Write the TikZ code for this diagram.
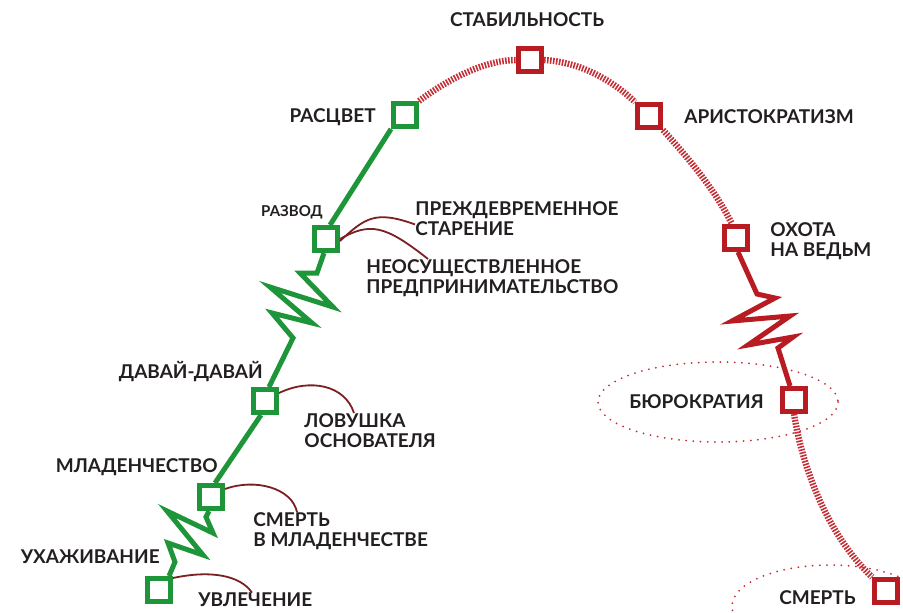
\documentclass[tikz,border=0pt]{standalone}
\usepackage{fontspec}
\setmainfont{Lato}
\usepackage{tikz}

\definecolor{lifegreen}{HTML}{1F9539}
\definecolor{lifered}{HTML}{B81C22}
\definecolor{hatchred}{HTML}{C42E35}
\definecolor{leadred}{HTML}{7A1F22}
\definecolor{inkgray}{HTML}{231F20}

\begin{document}
\begin{tikzpicture}[x=0.5pt,y=-0.5pt,
	gsq/.style={draw=lifegreen,fill=white,line width=2.6pt,minimum size=11.4pt,inner sep=0pt},
	rsq/.style={draw=lifered,fill=white,line width=2.6pt,minimum size=11.4pt,inner sep=0pt},
	gline/.style={draw=lifegreen,line width=2.5pt,line join=miter},
	rline/.style={draw=lifered,line width=2.5pt,line join=miter},
	hatch/.style={draw=hatchred,line width=3.2pt,dash pattern=on 0.8pt off 0.7pt},
	lead/.style={draw=leadred,line width=0.9pt},
	ring/.style={draw=hatchred,line width=1pt,line cap=round,dash pattern=on 0pt off 3.6pt},
	lbl/.style={text=inkgray,font=\fontsize{9.5}{10}\selectfont\bfseries,align=left,inner sep=0pt},
	small/.style={text=inkgray,font=\fontsize{7.5}{9}\selectfont\bfseries,inner sep=0pt}]
	\useasboundingbox (0,0) rectangle (903,612);

	% stages of growth
	\node[gsq](uvl) at (159,590) {};
	\node[gsq](mlad) at (211,497) {};
	\node[gsq](davai) at (265,401) {};
	\node[gsq](razvod) at (326,239) {};
	\node[gsq](rascvet) at (405,115) {};

	% stages of aging
	\node[rsq](stab) at (530,60) {};
	\node[rsq](arist) at (649,116) {};
	\node[rsq](oxota) at (736,238) {};
	\node[rsq](bur) at (794,400) {};
	\node[rsq](smert) at (886,591) {};

	% labels
	\node[lbl,anchor=south] (lstab) at (527,27) {СТАБИЛЬНОСТЬ};
	\node[lbl,anchor=east] (lrascvet) at (376,117) {РАСЦВЕТ};
	\node[lbl,anchor=west] (larist) at (684,117) {АРИСТОКРАТИЗМ};
	\node[small,anchor=east] (lrazvod) at (323,212) {РАЗВОД};
	\node[lbl,anchor=north west] (lprezh) at (415,201) {ПРЕЖДЕВРЕМЕННОЕ\\СТАРЕНИЕ};
	\node[lbl,anchor=north west] (lneos) at (366,259) {НЕОСУЩЕСТВЛЕННОЕ\\ПРЕДПРИНИМАТЕЛЬСТВО};
	\node[lbl,anchor=north west] (loxota) at (770,222) {ОХОТА\\НА ВЕДЬМ};
	\node[lbl,anchor=east] (lbur) at (764,402) {БЮРОКРАТИЯ};
	\node[lbl,anchor=east] (ldavai) at (263,372) {ДАВАЙ-ДАВАЙ};
	\node[lbl,anchor=north west] (llov) at (304,413) {ЛОВУШКА\\ОСНОВАТЕЛЯ};
	\node[lbl,anchor=east] (lmlad) at (218,467) {МЛАДЕНЧЕСТВО};
	\node[lbl,anchor=north west] (lsmml) at (253,512) {СМЕРТЬ\\В МЛАДЕНЧЕСТВЕ};
	\node[lbl,anchor=east] (luxazh) at (160,557) {УХАЖИВАНИЕ};
	\node[lbl,anchor=west] (luvl) at (198,600) {УВЛЕЧЕНИЕ};
	\node[lbl,anchor=east] (lsmert) at (856,598) {СМЕРТЬ};

	% bureaucracy and death rings
	\draw[ring] (718,402) ellipse [x radius=120,y radius=40];
	\draw[ring] (830,606) ellipse [x radius=98,y radius=41];

	% green path
	\draw[gline] ([xshift=-2pt]uvl.north east) -- (175,562) -- (168,543) -- (203,555) -- (167,511)
		-- (213,533) -- (206,517) -- ([xshift=-1pt]mlad.south);
	\draw[gline] ([xshift=2pt]mlad.north) -- ([xshift=-2pt]davai.south);
	\draw[gline] ([xshift=2pt]davai.north) -- (293,338) -- (272,313) -- (312,323) -- (270,287)
		-- (333,307) -- (300,273) -- (317,273) -- ([xshift=-1pt]razvod.south);
	\draw[gline] ([xshift=2pt]razvod.north) -- (rascvet.south west);

	% red path
	\draw[hatch] (rascvet.north east) .. controls (455,74) and (490,60) .. (stab.west);
	\draw[hatch] (stab.east) .. controls (580,62) and (612,80) .. (arist.north west);
	\draw[hatch] (arist.south east) .. controls (690,160) and (715,190) .. ([xshift=-2pt]oxota.north);
	\draw[rline] ([xshift=1pt]oxota.south) -- (757,294) -- (775,298) -- (732,321) -- (790,316)
		-- (748,345) -- (793,337) -- (778,348) -- ([xshift=-2pt]bur.north);
	\draw[hatch] (bur.south) .. controls (803,470) and (828,535) .. (smert.north west);

	% leaders
	\draw[lead] ([yshift=-1pt]razvod.east) .. controls (365,218) and (375,210) .. ([yshift=-3pt]lprezh.west);
	\draw[lead] (razvod.east) .. controls (370,222) and (385,225) .. ([xshift=31pt]lneos.north west);
	\draw[lead] ([yshift=4pt]davai.east) .. controls (310,378) and (345,385) .. ([xshift=25pt]llov.north west);
	\draw[lead] ([yshift=4pt]mlad.east) .. controls (255,478) and (292,488) .. ([xshift=22pt]lsmml.north west);
	\draw[lead] ([yshift=-1pt]uvl.north east) .. controls (210,570) and (240,575) .. ([xshift=27pt]luvl.north west);
\end{tikzpicture}
\end{document}
